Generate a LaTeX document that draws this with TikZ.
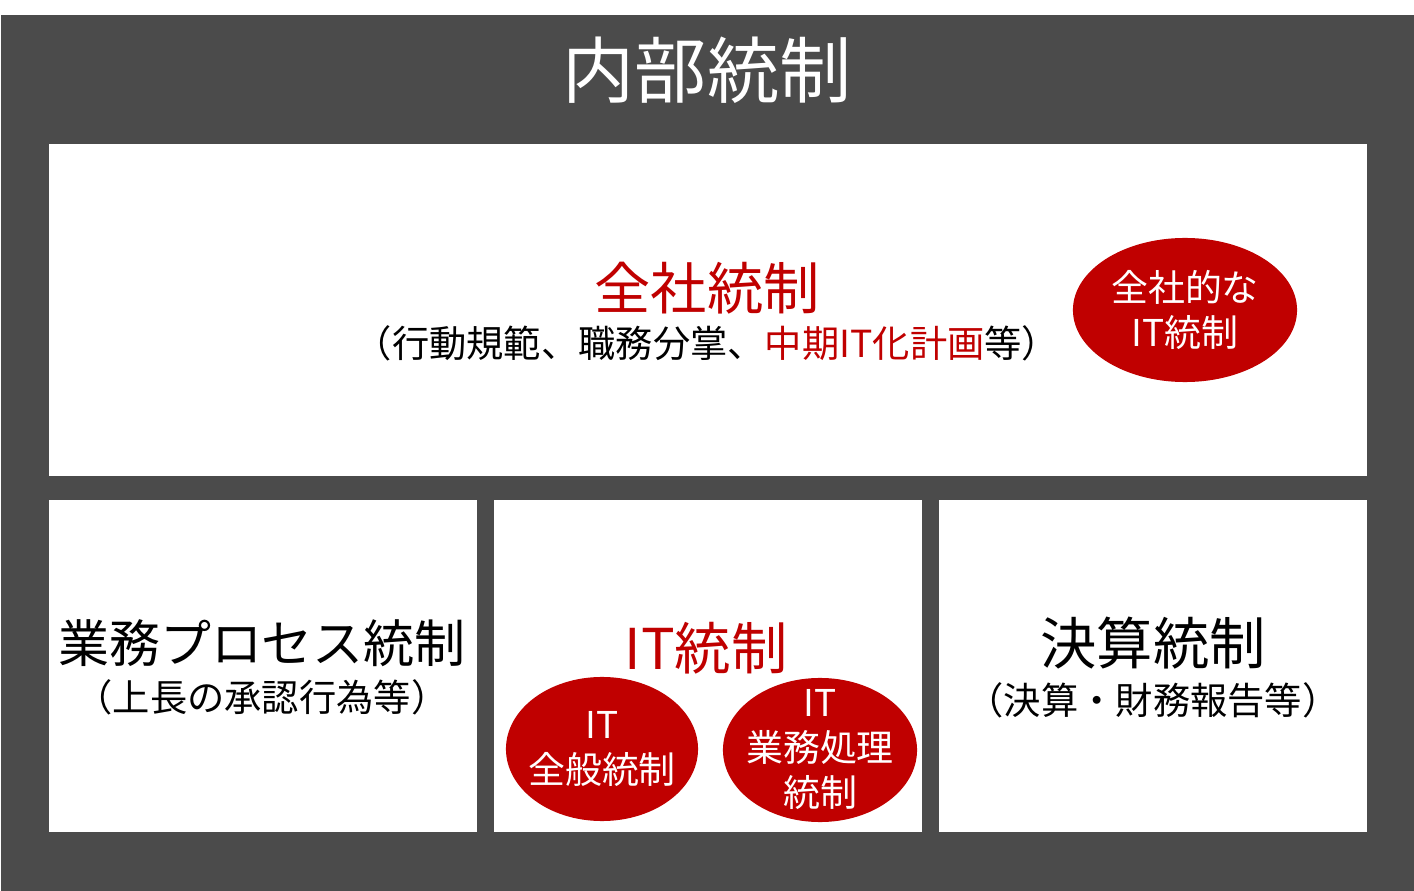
\documentclass[tikz,border=0pt]{standalone}
\usepackage{fontspec}
\setmainfont{Noto Sans CJK JP}
\usetikzlibrary{shapes.geometric}
\definecolor{panelgray}{HTML}{4B4B4B}
\definecolor{itred}{HTML}{C00000}
\begin{document}
\begin{tikzpicture}[x=0.01cm, y=-0.01cm,
    box/.style={fill=white, inner sep=0pt, minimum height=3.32cm},
    oval/.style={ellipse, fill=itred, inner sep=0pt, minimum height=1.44cm},
    ovaltext/.style={text=white, inner sep=0pt, align=center, font=\fontsize{10.5}{12.8}\selectfont},
    big/.style={font=\fontsize{16}{19}\selectfont},
    small/.style={font=\fontsize{10.6}{12}\selectfont}]
        \useasboundingbox (0,0) rectangle (1414,891);
        \fill[panelgray] (1,15) rectangle (1414,891);
        \node[text=white, font=\fontsize{20.5}{24}\selectfont] (title) at (707,70) {内部統制};

        % boxes
        \node[box, minimum width=13.18cm] (company) at (708,310) {};
        \node[box, minimum width=4.28cm] (process) at (263,666) {};
        \node[box, minimum width=4.28cm] (itctrl) at (708,666) {};
        \node[box, minimum width=4.28cm] (closing) at (1153,666) {};

        \node[big, text=itred] (companyT) at (707,288) {全社統制};
        \node[small] (companyS) at (707,343) {（行動規範、職務分掌、\textcolor{itred}{中期IT化計画}等）};
        \node[oval, minimum width=2.24cm] (companyIT) at (1185,310) {};
        \node[ovaltext] at (companyIT) {全社的な\\IT統制};

        \node[font=\fontsize{14.5}{17}\selectfont] (processT) at (262,643) {業務プロセス統制};
        \node[small] (processS) at (262,697) {（上長の承認行為等）};

        \node[big, text=itred] (itctrlT) at (706,648) {IT統制};
        \node[oval, minimum width=1.92cm] (general) at (602,749) {};
        \node[ovaltext] at (general) {IT\\全般統制};
        \node[oval, minimum width=1.94cm] (application) at (820,750) {};
        \node[ovaltext] at (application) {IT\\業務処理\\統制};

        \node[big] (closingT) at (1153,643) {決算統制};
        \node[small] (closingS) at (1153,700) {（決算・財務報告等）};
    \end{tikzpicture}
\end{document}
